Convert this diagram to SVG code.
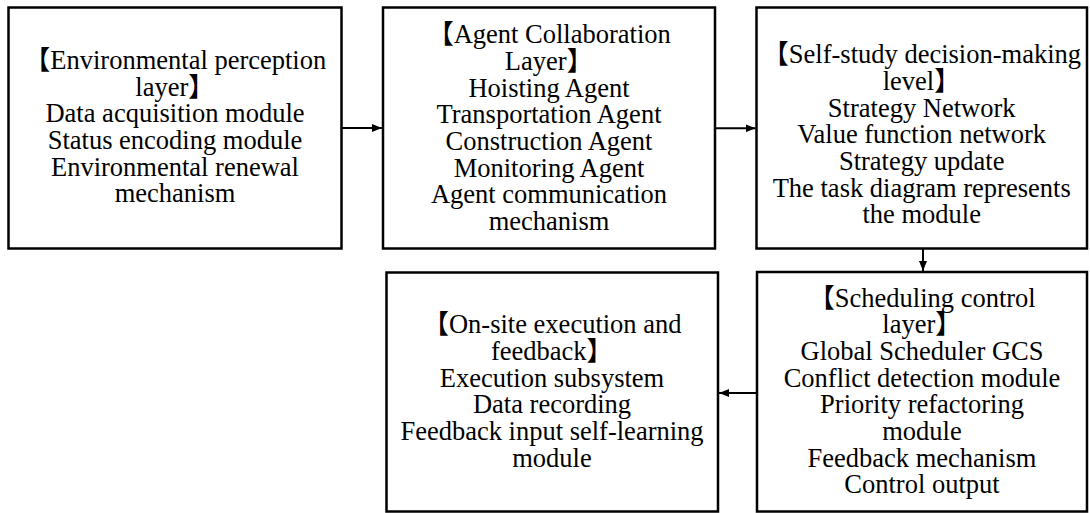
<svg xmlns="http://www.w3.org/2000/svg" width="1090" height="513" viewBox="0 0 1090 513">
<style>
.box{fill:#fff;stroke:#000;stroke-width:2.5}
.t{font-family:"Liberation Serif","Noto Sans CJK SC",serif;font-size:26.5px;fill:#000;text-anchor:middle}
.c{stroke:#000;stroke-width:2;fill:none}
</style>
<defs>
<marker id="ah" viewBox="0 0 10 8" refX="10" refY="4" markerWidth="10" markerHeight="8" markerUnits="userSpaceOnUse" orient="auto">
<polygon points="0,0 10,4 0,8" fill="#000"/>
</marker>
</defs>
<rect width="1090" height="513" fill="#fff"/>
<g id="env">
<rect class="box" x="8.5" y="7.5" width="333" height="241"/>
<text class="t" x="175" y="69">【Environmental perception<tspan x="175" dy="26.67">layer】</tspan><tspan x="175" dy="26.67">Data acquisition module</tspan><tspan x="175" dy="26.67">Status encoding module</tspan><tspan x="175" dy="26.67">Environmental renewal</tspan><tspan x="175" dy="26.67">mechanism</tspan></text>
</g>
<g id="agent">
<rect class="box" x="383" y="7.5" width="332" height="241"/>
<text class="t" x="549" y="43.3">【Agent Collaboration<tspan x="549" dy="26.67">Layer】</tspan><tspan x="549" dy="26.67">Hoisting Agent</tspan><tspan x="549" dy="26.67">Transportation Agent</tspan><tspan x="549" dy="26.67">Construction Agent</tspan><tspan x="549" dy="26.67">Monitoring Agent</tspan><tspan x="549" dy="26.67">Agent communication</tspan><tspan x="549" dy="26.67">mechanism</tspan></text>
</g>
<g id="selfstudy">
<rect class="box" x="756.5" y="7.5" width="330.5" height="241"/>
<text class="t" x="921.7" y="63.3">【Self-study decision-making<tspan x="921.7" dy="26.67">level】</tspan><tspan x="921.7" dy="26.67">Strategy Network</tspan><tspan x="921.7" dy="26.67">Value function network</tspan><tspan x="921.7" dy="26.67">Strategy update</tspan><tspan x="921.7" dy="26.67">The task diagram represents</tspan><tspan x="921.7" dy="26.67">the module</tspan></text>
</g>
<g id="scheduling">
<rect class="box" x="757" y="272" width="330" height="239.5"/>
<text class="t" x="922" y="306.7">【Scheduling control<tspan x="922" dy="26.67">layer】</tspan><tspan x="922" dy="26.67">Global Scheduler GCS</tspan><tspan x="922" dy="26.67">Conflict detection module</tspan><tspan x="922" dy="26.67">Priority refactoring</tspan><tspan x="922" dy="26.67">module</tspan><tspan x="922" dy="26.67">Feedback mechanism</tspan><tspan x="922" dy="26.67">Control output</tspan></text>
</g>
<g id="onsite">
<rect class="box" x="386.5" y="272.5" width="331.5" height="239"/>
<text class="t" x="552" y="333.3">【On-site execution and<tspan x="552" dy="26.67">feedback】</tspan><tspan x="552" dy="26.67">Execution subsystem</tspan><tspan x="552" dy="26.67">Data recording</tspan><tspan x="552" dy="26.67">Feedback input self-learning</tspan><tspan x="552" dy="26.67">module</tspan></text>
</g>
<g id="connectors">
<line class="c" x1="342" y1="128" x2="382" y2="128" marker-end="url(#ah)"/>
<line class="c" x1="715" y1="128.3" x2="755.5" y2="128.3" marker-end="url(#ah)"/>
<line class="c" x1="923" y1="248.5" x2="923" y2="271" marker-end="url(#ah)"/>
<line class="c" x1="757" y1="393" x2="719" y2="393" marker-end="url(#ah)"/>
</g>
</svg>
